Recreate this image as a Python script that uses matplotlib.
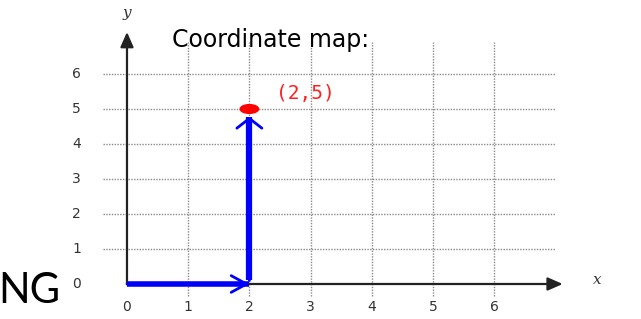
import matplotlib
matplotlib.use('Agg')
import matplotlib.pyplot as plt
from matplotlib.patches import Ellipse

# data
x_ticks = [0, 1, 2, 3, 4, 5, 6]
y_ticks = [0, 1, 2, 3, 4, 5, 6]
point = (2, 5)
point_label = '(2,5)'
path_x = [0, 2, 2]
path_y = [0, 0, 5]

fig = plt.figure(figsize=(6.41, 3.19), dpi=100)
ax = fig.add_axes([0, 0, 1, 1])
ax.set_xlim(-2.075, 8.399)
ax.set_ylim(-1.0, 8.114)
ax.axis('off')

grid_kw = dict(colors='#8a8a8a', linestyles=(0, (1, 1)), linewidth=1.0)
ax.hlines(y_ticks[1:], -0.4, 7.0, **grid_kw)
ax.vlines(x_ticks[1:], -0.35, 6.9, **grid_kw)

# axes arrows
axis_arrow = dict(arrowstyle='-|>, head_length=0.5, head_width=0.22', color='#222222',
                  lw=1.6, mutation_scale=18, shrinkA=0, shrinkB=0)
ax.annotate('', xy=(7.12, 0), xytext=(0, 0), arrowprops=axis_arrow)
ax.annotate('', xy=(0, 7.2), xytext=(0, 0), arrowprops=axis_arrow)

for t in x_ticks:
    ax.text(t, -0.66, str(t), ha='center', va='center', fontsize=10, color='#333333')
for t in y_ticks:
    ax.text(-0.82, t, str(t), ha='center', va='center', fontsize=10, color='#333333')

ax.text(0, 7.74, 'y', ha='center', va='center', fontsize=11, style='italic',
        family='DejaVu Serif', color='#333333')
ax.text(7.68, 0.11, 'x', ha='center', va='center', fontsize=11, style='italic',
        family='DejaVu Serif', color='#333333')

# blue path
tip_y = path_y[2] - 0.22
ax.plot(path_x[:2], path_y[:2], color='#0000ff', lw=4, solid_capstyle='butt')
ax.plot(path_x[1:], [path_y[1] + 0.1, tip_y], color='#0000ff', lw=4.5,
        solid_capstyle='butt')
ax.annotate('', xy=(path_x[1], path_y[1]), xytext=(path_x[0], path_y[0]),
            arrowprops=dict(arrowstyle='->, head_length=0.55, head_width=0.3',
                            color='#0000ff', lw=2.0, mutation_scale=20,
                            shrinkA=0, shrinkB=0))
ax.annotate('', xy=(path_x[2], tip_y), xytext=(path_x[1], path_y[1] + 0.1),
            arrowprops=dict(arrowstyle='->, head_length=0.35, head_width=0.45',
                            color='#0000ff', lw=2.0, mutation_scale=20,
                            shrinkA=0, shrinkB=0))

# red point
ax.add_patch(Ellipse(point, 0.30, 0.25, color='#ff0000', zorder=5))
ax.text(point[0] + 0.92, point[1] + 0.45, point_label, ha='center', va='center',
        fontsize=14, family='DejaVu Sans Mono', color='#ff2020')

ax.text(2.35, 6.97, 'Coordinate map:', ha='center', va='center', fontsize=17,
        color='black')
ax.text(-2.1, -0.54, 'NG', ha='left', va='baseline', fontsize=30,
        family='Lato', color='black')

plt.savefig('out.png', dpi=100)
